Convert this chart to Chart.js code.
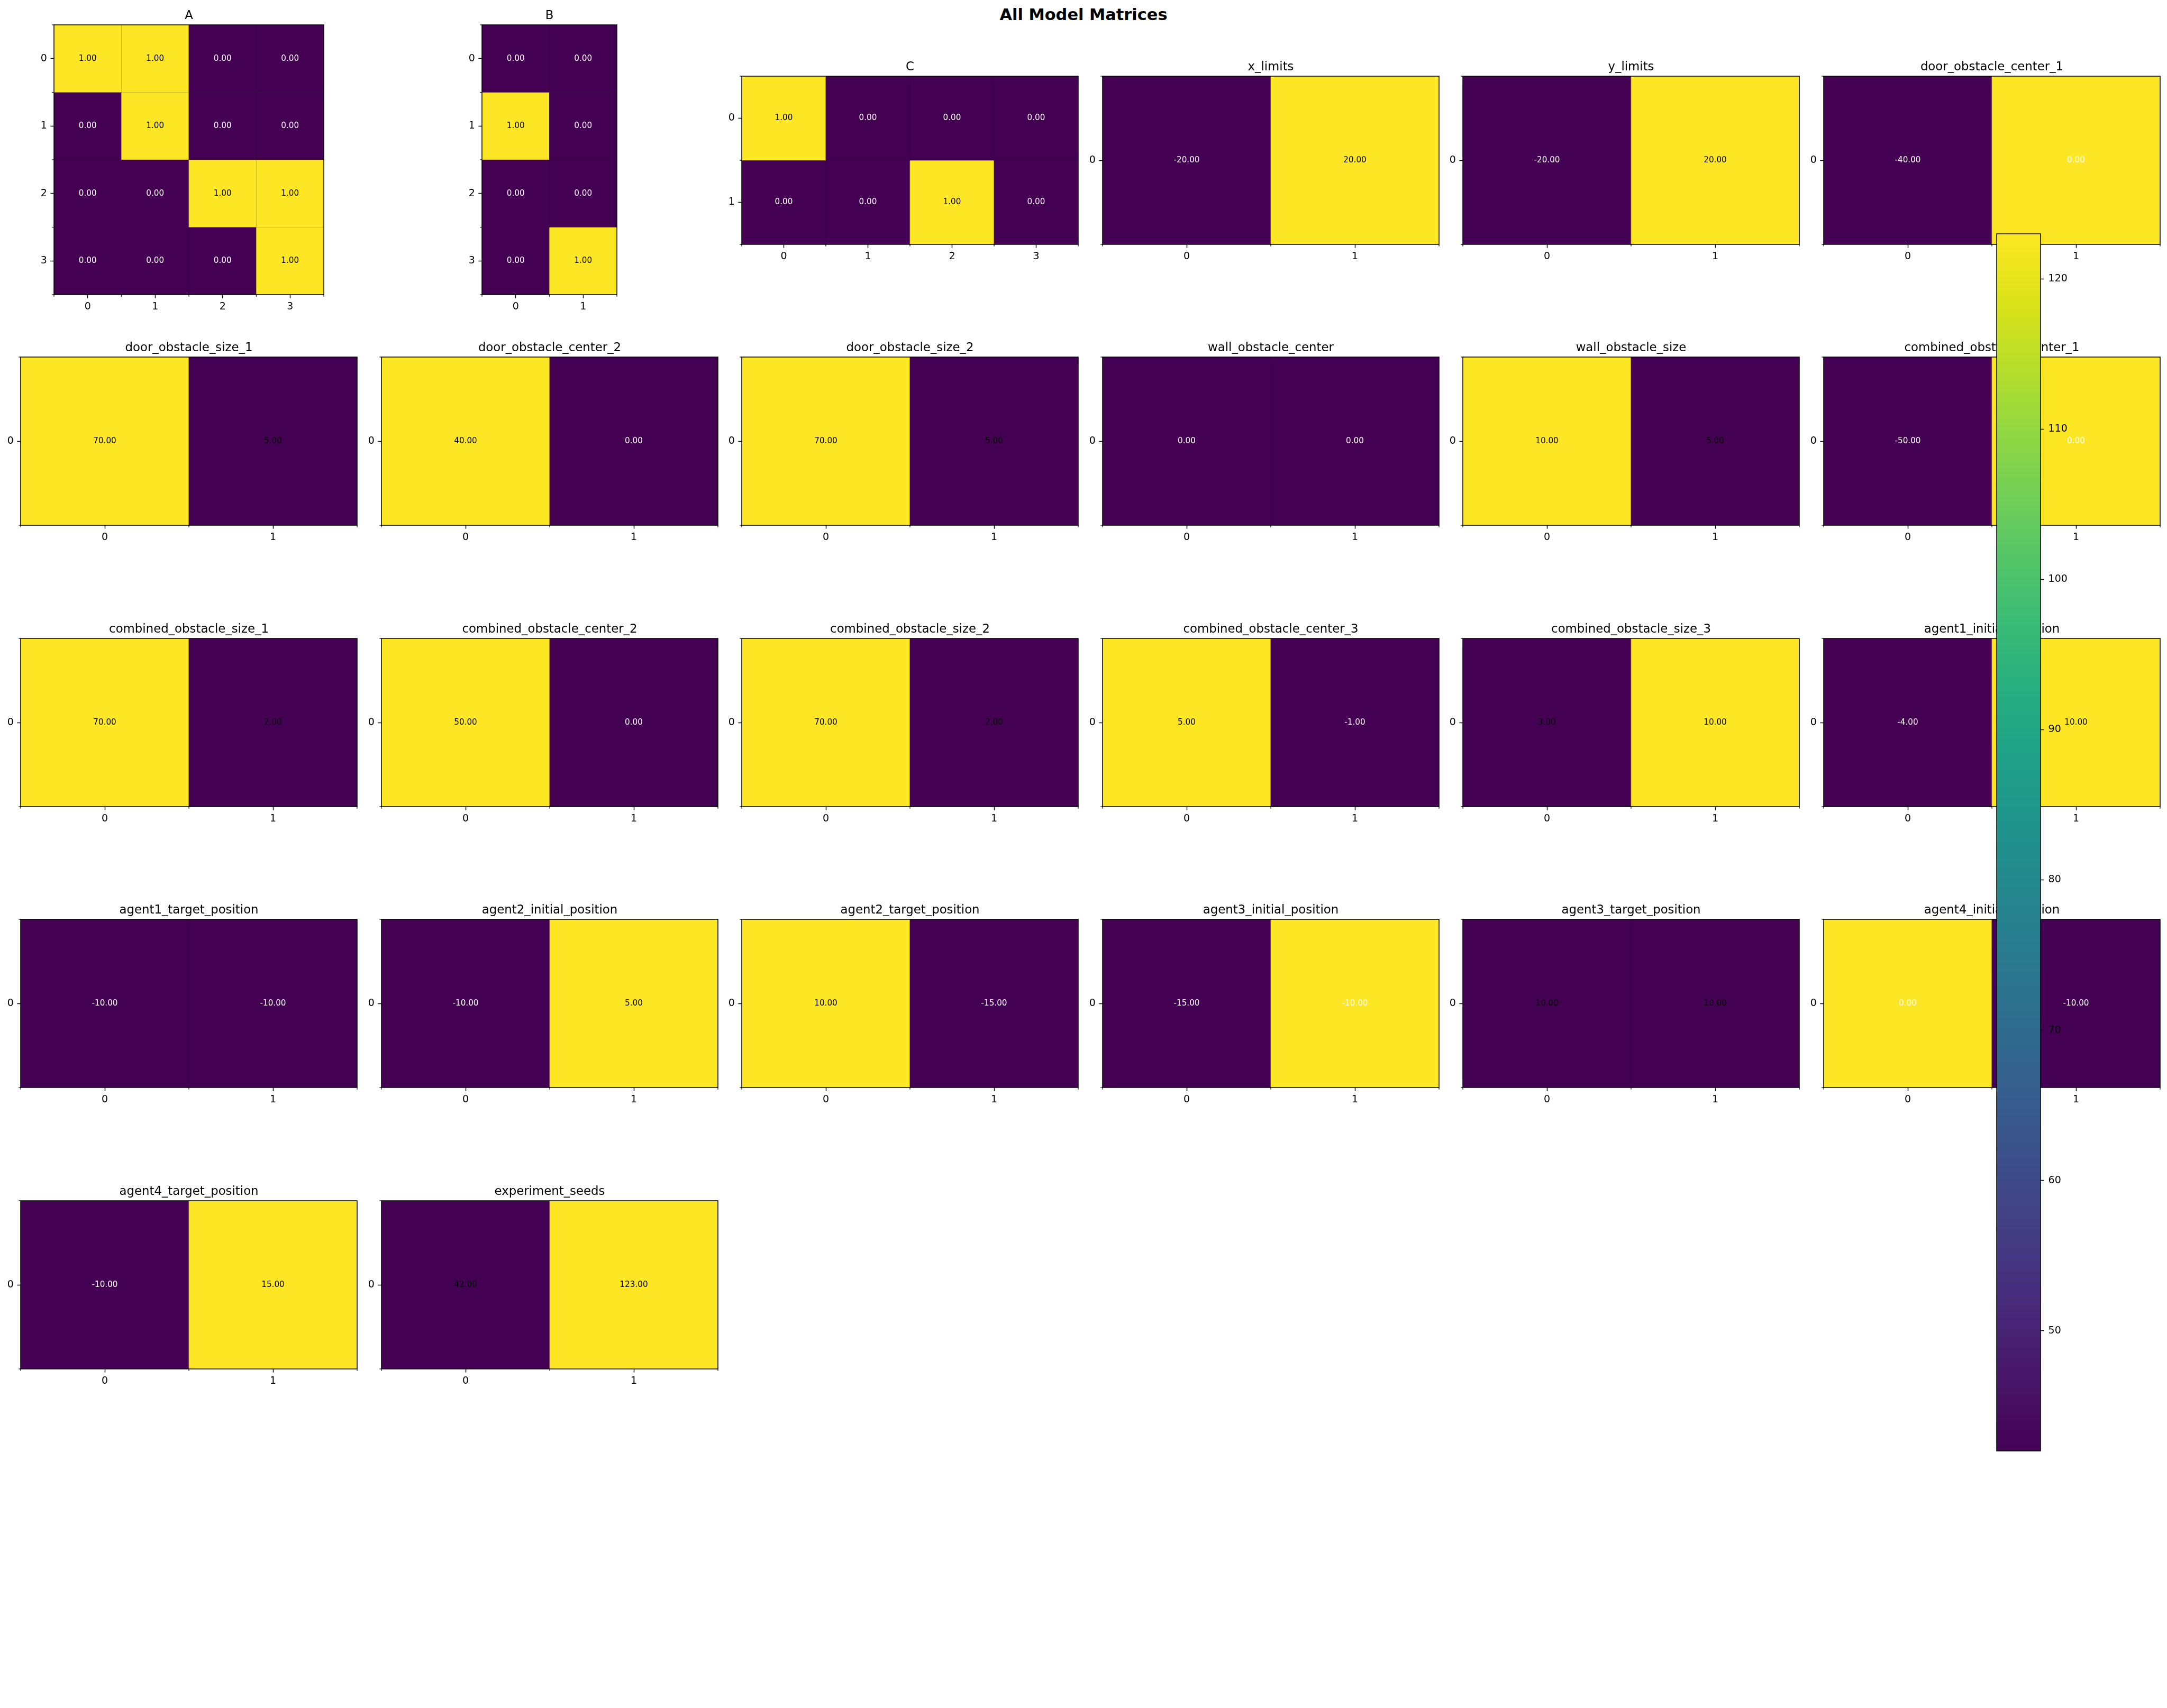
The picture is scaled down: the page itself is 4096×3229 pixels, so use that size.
<!DOCTYPE html>
<html>
<head>
<meta charset="utf-8">
<title>All Model Matrices</title>
<script src="https://cdn.jsdelivr.net/npm/chart.js@4.4.1/dist/chart.umd.min.js"></script>
<style>
  html, body { margin: 0; padding: 0; background: #ffffff; }
  #page { position: relative; width: 4096px; height: 3229px; overflow: hidden; background: #ffffff; }
  #page canvas { position: absolute; }
  #suptitle { position: absolute; left: 0; width: 4096px; text-align: center; white-space: nowrap;
              font-family: "DejaVu Sans", sans-serif; font-weight: bold; color: #000; }
</style>
</head>
<body>
<div id="page"><div id="suptitle">All Model Matrices</div></div>
<script>
// ---------------- DATA ----------------
const figureTitle = 'All Model Matrices';
const tickLabels = ['0', '1', '2', '3'];
const colorbarTicks = [50, 60, 70, 80, 90, 100, 110, 120];

const A = [[1, 1, 0, 0], [0, 1, 0, 0], [0, 0, 1, 1], [0, 0, 0, 1]];
const B = [[0, 0], [1, 0], [0, 0], [0, 1]];
const C = [[1, 0, 0, 0], [0, 0, 1, 0]];
const x_limits = [[-20, 20]];
const y_limits = [[-20, 20]];
const door_obstacle_center_1 = [[-40, 0]];
const door_obstacle_size_1 = [[70, 5]];
const door_obstacle_center_2 = [[40, 0]];
const door_obstacle_size_2 = [[70, 5]];
const wall_obstacle_center = [[0, 0]];
const wall_obstacle_size = [[10, 5]];
const combined_obstacle_center_1 = [[-50, 0]];
const combined_obstacle_size_1 = [[70, 2]];
const combined_obstacle_center_2 = [[50, 0]];
const combined_obstacle_size_2 = [[70, 2]];
const combined_obstacle_center_3 = [[5, -1]];
const combined_obstacle_size_3 = [[3, 10]];
const agent1_initial_position = [[-4, 10]];
const agent1_target_position = [[-10, -10]];
const agent2_initial_position = [[-10, 5]];
const agent2_target_position = [[10, -15]];
const agent3_initial_position = [[-15, -10]];
const agent3_target_position = [[10, 10]];
const agent4_initial_position = [[0, -10]];
const agent4_target_position = [[-10, 15]];
const experiment_seeds = [[42, 123]];

const panelNames = ['A', 'B', 'C', 'x_limits', 'y_limits', 'door_obstacle_center_1',
  'door_obstacle_size_1', 'door_obstacle_center_2', 'door_obstacle_size_2', 'wall_obstacle_center', 'wall_obstacle_size', 'combined_obstacle_center_1',
  'combined_obstacle_size_1', 'combined_obstacle_center_2', 'combined_obstacle_size_2', 'combined_obstacle_center_3', 'combined_obstacle_size_3', 'agent1_initial_position',
  'agent1_target_position', 'agent2_initial_position', 'agent2_target_position', 'agent3_initial_position', 'agent3_target_position', 'agent4_initial_position',
  'agent4_target_position', 'experiment_seeds'];
const panelMatrices = [A, B, C, x_limits, y_limits, door_obstacle_center_1,
  door_obstacle_size_1, door_obstacle_center_2, door_obstacle_size_2, wall_obstacle_center, wall_obstacle_size, combined_obstacle_center_1,
  combined_obstacle_size_1, combined_obstacle_center_2, combined_obstacle_size_2, combined_obstacle_center_3, combined_obstacle_size_3, agent1_initial_position,
  agent1_target_position, agent2_initial_position, agent2_target_position, agent3_initial_position, agent3_target_position, agent4_initial_position,
  agent4_target_position, experiment_seeds];

// ---------------- STYLE / LAYOUT ----------------
const S = 4096 / 4484;                 // scale from reference pixels to window pixels
const FONT = '"DejaVu Sans", sans-serif';
const VIRIDIS = ['#440154', '#481467', '#482576', '#453781', '#404688', '#39568c', '#33638d',
  '#2d718e', '#287d8e', '#238a8d', '#1f968b', '#20a386', '#29af7f', '#3cbc75', '#56c667',
  '#75d054', '#95d840', '#bade28', '#dde318', '#fde725'];
// reference-pixel grid geometry
const COL0 = 391.2, COL_STEP = 746.1, ROW0 = 331.3, ROW_STEP = 581.85, CELL_W = 696.3, CELL_H = 558.7;
const NCOLS = 6;
const TITLE_SIZE = 25 * S, TICK_SIZE = 20.83 * S, ANNOT_SIZE = 16.67 * S, SUP_SIZE = 33.3 * S;
const TICK_LEN = 7.29 * S, MINOR_LEN = 4.17 * S, TICK_W = 1.5, MINOR_W = 1.15, SPINE_W = 1.5;
const AXIS_W = 60, AXIS_B = 48, TITLE_H = 31, PAD_R = 6;
const CB = { left: 4131.5, right: 4222, top: 483.4, bottom: 3002.9 };

Chart.defaults.font.family = FONT;
Chart.defaults.color = '#000';
Chart.defaults.animation = false;

function hexToRgb(h) { return [parseInt(h.slice(1, 3), 16), parseInt(h.slice(3, 5), 16), parseInt(h.slice(5, 7), 16)]; }
function viridis(t) {
  t = Math.max(0, Math.min(1, t));
  const f = t * (VIRIDIS.length - 1), i = Math.min(Math.floor(f), VIRIDIS.length - 2), u = f - i;
  const a = hexToRgb(VIRIDIS[i]), b = hexToRgb(VIRIDIS[i + 1]);
  return 'rgb(' + a.map((v, k) => Math.round(v + (b[k] - v) * u)).join(',') + ')';
}

const sup = document.getElementById('suptitle');
sup.textContent = figureTitle;
sup.style.fontSize = SUP_SIZE + 'px';
sup.style.lineHeight = '36px';
sup.style.top = (29.5 * S - 17.4) + 'px';

const page = document.getElementById('page');

function addCanvas(left, top, w, h, z) {
  const c = document.createElement('canvas');
  c.width = w; c.height = h;
  c.style.left = left + 'px'; c.style.top = top + 'px';
  c.style.width = w + 'px'; c.style.height = h + 'px';
  c.style.zIndex = z;
  page.appendChild(c);
  return c;
}

function makePanel(name, matrix, idx) {
  const R = matrix.length, Cn = matrix[0].length;
  const k = idx % NCOLS, m = Math.floor(idx / NCOLS);
  const unit = Math.min(CELL_W / Cn, CELL_H / R);
  const wF = unit * Cn, hF = unit * R;
  const cx = COL0 + k * COL_STEP, cy = ROW0 + m * ROW_STEP;
  const left = (cx - wF / 2) * S, top = (cy - hF / 2) * S;
  const w = Math.round(wF * S), h = Math.round(hF * S);
  const cLeft = Math.round(left) - AXIS_W, cTop = Math.round(top) - TITLE_H;
  const canvas = addCanvas(cLeft, cTop, AXIS_W + w + PAD_R, TITLE_H + h + AXIS_B, 1);

  const flat = matrix.flat();
  const vmin = Math.min(...flat), vmax = Math.max(...flat);
  const norm = v => (vmax > vmin ? (v - vmin) / (vmax - vmin) : 0);
  const colLabels = tickLabels.slice(0, Cn);
  const rowLabels = tickLabels.slice(0, R);

  const decor = {
    id: 'decor',
    afterDatasetsDraw(chart) {
      const { ctx, chartArea: a, scales: { x, y } } = chart;
      ctx.save();
      // faint cell-boundary grid
      ctx.strokeStyle = 'rgba(0,0,0,0.2)';
      ctx.lineWidth = 1;
      for (let i = 1; i < Cn; i++) {
        const px = x.getPixelForValue(i - 0.5);
        ctx.beginPath(); ctx.moveTo(px, a.top); ctx.lineTo(px, a.bottom); ctx.stroke();
      }
      for (let r = 1; r < R; r++) {
        const py = y.getPixelForValue(r);
        ctx.beginPath(); ctx.moveTo(a.left, py); ctx.lineTo(a.right, py); ctx.stroke();
      }
      // minor ticks at cell edges
      ctx.strokeStyle = '#000';
      ctx.lineWidth = MINOR_W;
      for (let i = 0; i <= Cn; i++) {
        const px = x.getPixelForValue(i - 0.5);
        ctx.beginPath(); ctx.moveTo(px, a.bottom); ctx.lineTo(px, a.bottom + MINOR_LEN); ctx.stroke();
      }
      for (let r = 0; r <= R; r++) {
        const py = y.getPixelForValue(r);
        ctx.beginPath(); ctx.moveTo(a.left, py); ctx.lineTo(a.left - MINOR_LEN, py); ctx.stroke();
      }
      // spines
      ctx.lineWidth = SPINE_W;
      ctx.strokeRect(a.left, a.top, a.right - a.left, a.bottom - a.top);
      // cell annotations
      ctx.font = ANNOT_SIZE + 'px ' + FONT;
      ctx.textAlign = 'center';
      ctx.textBaseline = 'middle';
      chart.data.datasets.forEach((ds, r) => {
        chart.getDatasetMeta(r).data.forEach((bar, j) => {
          const v = ds.data[j].v;
          ctx.fillStyle = v > 0.5 ? '#000000' : '#ffffff';
          ctx.fillText(v.toFixed(2), bar.x, (bar.y + bar.base) / 2);
        });
      });
      ctx.restore();
    }
  };

  const tickGrid = { display: true, drawOnChartArea: false, drawTicks: true, offset: false,
    tickLength: TICK_LEN, tickWidth: TICK_W, tickColor: '#000' };

  new Chart(canvas, {
    type: 'bar',
    data: {
      labels: colLabels,
      datasets: matrix.map((row, r) => ({
        label: name + ' row ' + rowLabels[r],
        data: row.map((v, j) => ({ x: colLabels[j], h: 1, v: v })),
        parsing: { xAxisKey: 'x', yAxisKey: 'h' },
        stack: 'cells',
        backgroundColor: row.map(v => viridis(norm(v))),
        borderWidth: 0,
        barPercentage: 1,
        categoryPercentage: 1
      }))
    },
    options: {
      responsive: false,
      maintainAspectRatio: false,
      devicePixelRatio: 1,
      animation: false,
      events: [],
      layout: { padding: { left: 0, right: PAD_R, top: 0, bottom: 0 }, autoPadding: false },
      plugins: {
        legend: { display: false },
        tooltip: { enabled: false },
        title: { display: true, text: name, fullSize: false, color: '#000',
          font: { family: FONT, size: TITLE_SIZE, weight: 'normal', lineHeight: '28px' },
          padding: { top: 0, bottom: 3 } }
      },
      scales: {
        x: {
          type: 'category', stacked: true, offset: true,
          grid: tickGrid, border: { display: false },
          ticks: { padding: 4.5, autoSkip: false, maxRotation: 0, color: '#000', font: { family: FONT, size: TICK_SIZE } },
          afterFit(s) { s.height = AXIS_B; }
        },
        y: {
          type: 'linear', stacked: true, reverse: true, min: 0, max: R,
          grid: tickGrid, border: { display: false },
          afterBuildTicks(s) { s.ticks = rowLabels.map((_, r) => ({ value: r + 0.5 })); },
          ticks: { padding: 6.6, autoSkip: false, color: '#000', font: { family: FONT, size: TICK_SIZE },
            callback: (value, i) => rowLabels[i] },
          afterFit(s) { s.width = AXIS_W; }
        }
      }
    },
    plugins: [decor]
  });
}

panelNames.forEach((name, i) => makePanel(name, panelMatrices[i], i));

// ---------------- COLORBAR ----------------
(function makeColorbar() {
  const seeds = experiment_seeds.flat();
  const cbMin = Math.min(...seeds), cbMax = Math.max(...seeds);
  const left = Math.round(CB.left * S), top = Math.round(CB.top * S);
  const w = Math.round((CB.right - CB.left) * S), h = Math.round((CB.bottom - CB.top) * S);
  const PL = 3, PV = 24, YW = 70;
  const canvas = addCanvas(left - PL, top - PV, PL + w + YW, PV + h + PV, 5);
  const frame = {
    id: 'cbframe',
    afterDatasetsDraw(chart) {
      const { ctx, chartArea: a } = chart;
      ctx.save();
      ctx.strokeStyle = '#000';
      ctx.lineWidth = SPINE_W;
      ctx.strokeRect(a.left, a.top, a.right - a.left, a.bottom - a.top);
      ctx.restore();
    }
  };
  new Chart(canvas, {
    type: 'bar',
    data: {
      labels: ['colorbar'],
      datasets: [{
        label: 'colorbar',
        data: [[cbMin, cbMax]],
        borderWidth: 0,
        barPercentage: 1,
        categoryPercentage: 1,
        backgroundColor(ctx) {
          const chart = ctx.chart, y = chart.scales.y;
          if (!chart.chartArea || !y) return VIRIDIS[0];
          const g = chart.ctx.createLinearGradient(0, y.getPixelForValue(cbMin), 0, y.getPixelForValue(cbMax));
          VIRIDIS.forEach((c, i) => g.addColorStop(i / (VIRIDIS.length - 1), c));
          return g;
        }
      }]
    },
    options: {
      responsive: false,
      maintainAspectRatio: false,
      devicePixelRatio: 1,
      animation: false,
      events: [],
      layout: { padding: { left: PL, right: 0, top: PV, bottom: PV }, autoPadding: false },
      plugins: { legend: { display: false }, tooltip: { enabled: false }, title: { display: false } },
      scales: {
        x: { type: 'category', display: false, offset: true },
        y: {
          type: 'linear', position: 'right', min: cbMin, max: cbMax,
          grid: { display: true, drawOnChartArea: false, drawTicks: true, tickLength: TICK_LEN, tickWidth: TICK_W, tickColor: '#000' },
          border: { display: false },
          afterBuildTicks(s) { s.ticks = colorbarTicks.map(v => ({ value: v })); },
          ticks: { padding: 7.9, autoSkip: false, color: '#000', font: { family: FONT, size: TICK_SIZE },
            callback: (value) => String(value) },
          afterFit(s) { s.width = YW; }
        }
      }
    },
    plugins: [frame]
  });
})();
</script>
</body>
</html>
